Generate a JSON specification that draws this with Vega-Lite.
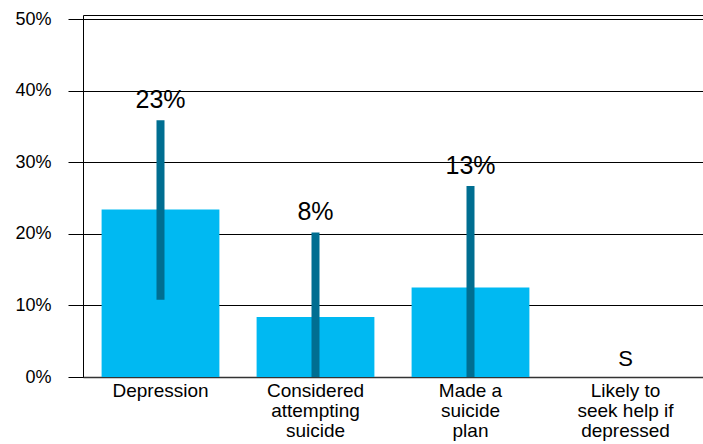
{
  "$schema": "https://vega.github.io/schema/vega-lite/v6.json",
  "autosize": "none",
  "width": 620,
  "height": 362,
  "padding": {"left": 83, "top": 15, "right": 0, "bottom": 67},
  "background": "white",
  "config": {
    "font": "Liberation Sans",
    "view": {"stroke": "#000", "strokeWidth": 1}
  },
  "data": {
    "values": [
      {"category": "Depression", "value": 23.4, "lo": 10.8, "hi": 35.9, "label": "23%"},
      {"category": "Considered|attempting|suicide", "value": 8.4, "lo": 0, "hi": 20.2, "label": "8%"},
      {"category": "Made a|suicide|plan", "value": 12.5, "lo": 0, "hi": 26.7, "label": "13%"},
      {"category": "Likely to|seek help if|depressed", "value": null, "lo": null, "hi": null, "label": "S"}
    ]
  },
  "encoding": {
    "x": {
      "field": "category",
      "type": "nominal",
      "sort": null,
      "scale": {"paddingInner": 0.24, "paddingOuter": 0.12},
      "axis": {
        "title": null,
        "labelAngle": 0,
        "labelExpr": "split(datum.label, '|')",
        "labelFontSize": 19,
        "labelLineHeight": 20,
        "labelColor": "#000",
        "labelPadding": 4,
        "ticks": false,
        "domainColor": "#333",
        "domainWidth": 1.5,
        "grid": false
      }
    }
  },
  "layer": [
    {
      "mark": {"type": "bar", "color": "#00B9F2"},
      "encoding": {
        "y": {
          "field": "value",
          "type": "quantitative",
          "scale": {"domain": [0, 50.6], "nice": false},
          "axis": {
            "title": null,
            "values": [0, 10, 20, 30, 40, 50],
            "labelExpr": "datum.value + '%'",
            "labelFontSize": 18,
            "labelColor": "#000",
            "labelPadding": 17,
            "tickSize": 15,
            "tickColor": "#000",
            "gridColor": "#000",
            "gridWidth": 1,
            "domain": false
          }
        }
      }
    },
    {
      "mark": {"type": "rule", "color": "#006E91", "strokeWidth": 8},
      "encoding": {
        "y": {"field": "lo", "type": "quantitative"},
        "y2": {"field": "hi"}
      }
    },
    {
      "transform": [{"filter": "datum.hi != null"}],
      "mark": {"type": "text", "fontSize": 25, "baseline": "bottom", "dy": -7, "color": "#000"},
      "encoding": {
        "y": {"field": "hi", "type": "quantitative"},
        "text": {"field": "label"}
      }
    },
    {
      "transform": [{"filter": "datum.hi == null"}],
      "mark": {"type": "text", "fontSize": 22, "baseline": "bottom", "dy": -6, "color": "#000"},
      "encoding": {
        "y": {"datum": 0},
        "text": {"field": "label"}
      }
    }
  ]
}
